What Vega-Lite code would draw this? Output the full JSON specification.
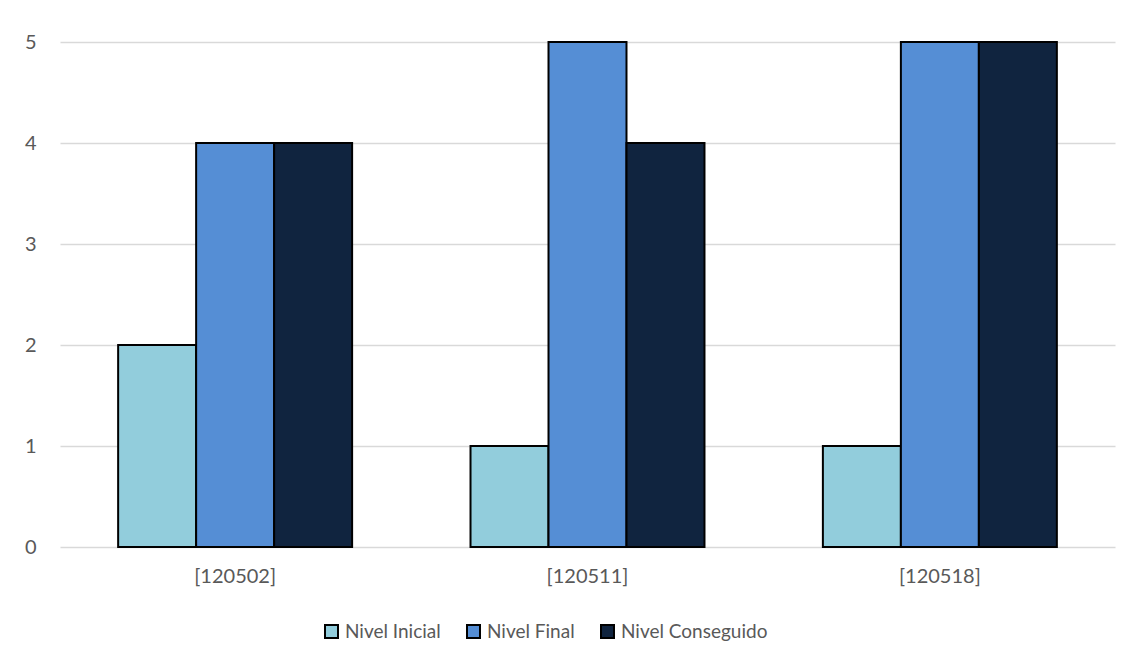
{
  "$schema": "https://vega.github.io/schema/vega-lite/v6.json",
  "autosize": {"type": "none"},
  "width": 1055,
  "height": 505,
  "padding": {"left": 60, "top": 42, "right": 16, "bottom": 115},
  "background": "#ffffff",
  "config": {
    "font": "Lato",
    "view": {"stroke": null},
    "axis": {"labelFont": "Lato", "labelColor": "#595959", "labelFontSize": 20}
  },
  "data": {
    "values": [
      {"competencia": "[120502]", "nivel": "Nivel Inicial", "valor": 2},
      {"competencia": "[120502]", "nivel": "Nivel Final", "valor": 4},
      {"competencia": "[120502]", "nivel": "Nivel Conseguido", "valor": 4},
      {"competencia": "[120511]", "nivel": "Nivel Inicial", "valor": 1},
      {"competencia": "[120511]", "nivel": "Nivel Final", "valor": 5},
      {"competencia": "[120511]", "nivel": "Nivel Conseguido", "valor": 4},
      {"competencia": "[120518]", "nivel": "Nivel Inicial", "valor": 1},
      {"competencia": "[120518]", "nivel": "Nivel Final", "valor": 5},
      {"competencia": "[120518]", "nivel": "Nivel Conseguido", "valor": 5}
    ]
  },
  "mark": {"type": "bar", "stroke": "#000000", "strokeWidth": 2},
  "encoding": {
    "x": {
      "field": "competencia",
      "type": "nominal",
      "sort": null,
      "scale": {"paddingInner": 0.336, "paddingOuter": 0.165},
      "axis": {
        "title": null,
        "labelAngle": 0,
        "domain": false,
        "ticks": false,
        "labelPadding": 19,
        "grid": false
      }
    },
    "xOffset": {
      "field": "nivel",
      "type": "nominal",
      "sort": ["Nivel Inicial", "Nivel Final", "Nivel Conseguido"],
      "scale": {"paddingInner": 0, "paddingOuter": 0}
    },
    "y": {
      "field": "valor",
      "type": "quantitative",
      "scale": {"domain": [0, 5], "nice": false},
      "axis": {
        "title": null,
        "values": [0, 1, 2, 3, 4, 5],
        "domain": false,
        "ticks": false,
        "labelPadding": 24,
        "gridColor": "#D9D9D9",
        "gridWidth": 1.5
      }
    },
    "color": {
      "field": "nivel",
      "type": "nominal",
      "sort": ["Nivel Inicial", "Nivel Final", "Nivel Conseguido"],
      "scale": {
        "domain": ["Nivel Inicial", "Nivel Final", "Nivel Conseguido"],
        "range": ["#92CDDC", "#558ED5", "#10243F"]
      },
      "legend": {
        "title": null,
        "orient": "none",
        "direction": "horizontal",
        "legendX": 262,
        "legendY": 580,
        "symbolType": "square",
        "symbolSize": 169,
        "symbolStrokeColor": "#000000",
        "symbolStrokeWidth": 2,
        "symbolOpacity": 1,
        "labelFont": "Lato",
        "labelFontSize": 19,
        "labelColor": "#595959",
        "labelOffset": 4,
        "columnPadding": 22
      }
    }
  }
}
